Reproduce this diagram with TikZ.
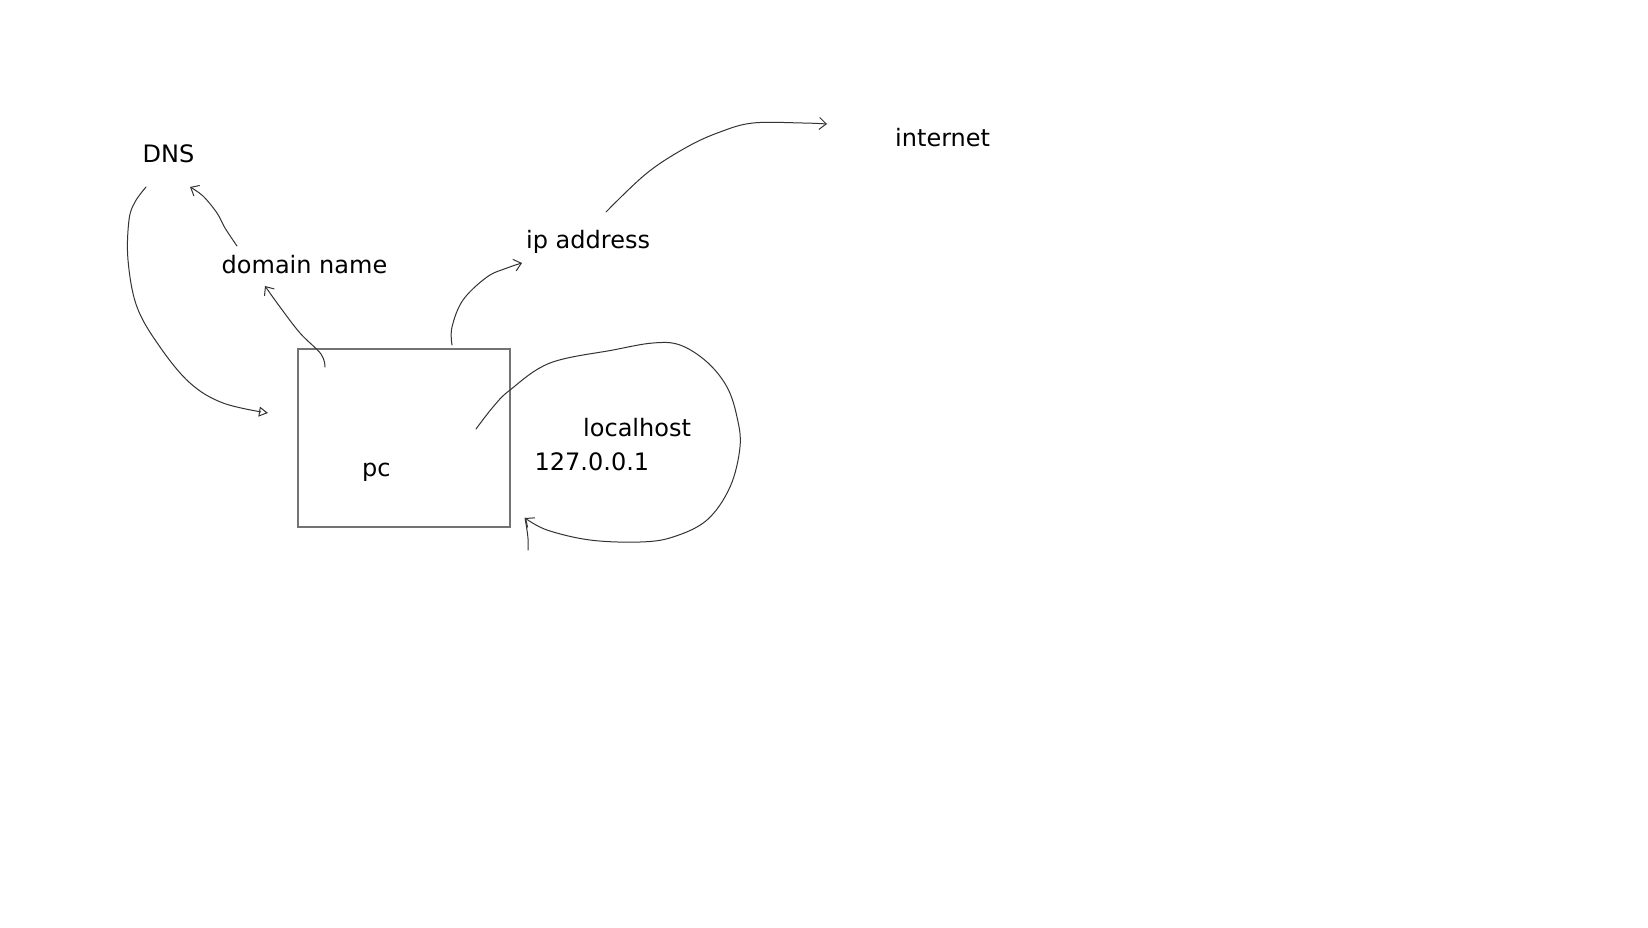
\documentclass[tikz,border=0pt]{standalone}
\usepackage{fontspec}
\setmainfont{DejaVu Sans}
\usetikzlibrary{arrows.meta}
\begin{document}
\begin{tikzpicture}[x=1pt,y=-1pt,
  lbl/.style={anchor=base west,inner sep=0pt,font=\fontsize{24}{28}\selectfont,text=black},
  sketch/.style={draw=black!80,line width=1pt,line cap=round,line join=round},
  barb/.style={-{Straight Barb[length=7pt,width=12pt,line width=1pt]}},
  tri/.style={-{Triangle[open,length=9pt,width=10pt,line width=1pt]}},
  boxstyle/.style={draw=black!55,line width=1.6pt,minimum width=212pt,minimum height=178pt,inner sep=0pt}]
\useasboundingbox[fill=white] (0,0) rectangle (1648,927);

% texts
\node[lbl] (dns) at (142.5,162) {DNS};
\node[lbl] (domain) at (221.5,273) {domain name};
\node[lbl] (ip) at (526,248) {ip address};
\node[lbl] (internet) at (895,146) {internet};
\node[lbl] (localhost) at (583,436) {localhost};
\node[lbl] (loopip) at (534.5,470) {127.0.0.1};
\node[boxstyle] (pcbox) at (404,438) {};
\node[lbl] (pc) at (362,476) {pc};

% named ends
\coordinate (dnsA) at (146,187);
\coordinate (pcA) at (268,413);
\coordinate (domA) at (237,246);
\coordinate (dnsB) at (190,187);
\coordinate (pcB) at (325,367);
\coordinate (domB) at (265,286);
\coordinate (pcC) at (452,345);
\coordinate (ipC) at (522,263);
\coordinate (ipD) at (606,212);
\coordinate (netD) at (827,124);
\coordinate (pcE) at (476,429);
\coordinate (pcF) at (525,518);
\coordinate (tailF) at (528,550);

% connectors
\draw[sketch,tri] plot[smooth,tension=0.6] coordinates {(dnsA) (135,202) (129,220) (128,260) (137,307) (160,347) (190,383) (223,403) (pcA)};
\draw[sketch,barb] plot[smooth,tension=0.6] coordinates {(domA) (225,228) (217,213) (203,196) (dnsB)};
\draw[sketch,barb] plot[smooth,tension=0.6] coordinates {(pcB) (321,354) (300,333) (280,307) (domB)};
\draw[sketch,barb] plot[smooth,tension=0.6] coordinates {(pcC) (452,327) (463,300) (487,277) (507,268) (ipC)};
\draw[sketch,barb] plot[smooth,tension=0.6] coordinates {(ipD) (647,173) (687,147) (720,132) (753,123) (803,123) (netD)};
\draw[sketch,barb] plot[smooth,tension=0.6] coordinates {(pcE) (493,407) (510,390) (550,363) (613,350) (653,343) (680,345) (707,362) (727,387) (737,417) (740,447) (730,487) (707,520) (673,537) (640,542) (590,540) (547,530) (pcF)};
\draw[sketch] (pcF) .. controls (527,530) and (529,540) .. (tailF);
\end{tikzpicture}
\end{document}
